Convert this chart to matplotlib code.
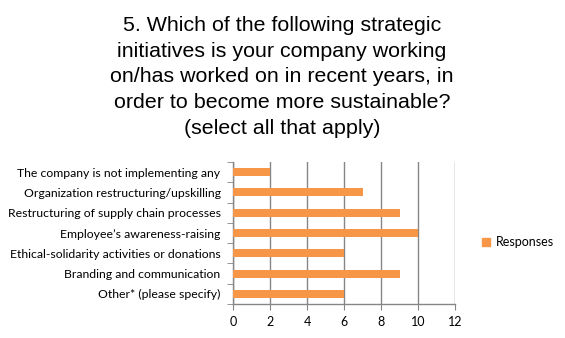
import matplotlib
matplotlib.use("Agg")
import matplotlib.pyplot as plt
from matplotlib.patches import Patch

categories = [
    "The company is not implementing any",
    "Organization restructuring/upskilling",
    "Restructuring of supply chain processes",
    "Employee\u2019s awareness-raising",
    "Ethical-solidarity activities or donations",
    "Branding and communication",
    "Other* (please specify)",
]
responses = [2, 7, 9, 10, 6, 9, 6]
xticks = [0, 2, 4, 6, 8, 10, 12]
series_name = "Responses"
title = ("5. Which of the following strategic\ninitiatives is your company working\n"
         "on/has worked on in recent years, in\norder to become more sustainable?\n"
         "(select all that apply)")

W, H = 565, 338
fig = plt.figure(figsize=(W / 100, H / 100), dpi=100)
fig.patch.set_facecolor("white")

left, right, top, bottom = 233, 455, 162, 304
ax = fig.add_axes([left / W, 1 - bottom / H, (right - left) / W, (bottom - top) / H])

orange = "#F79646"
grey = "#868686"
lab_font = "Lato"
n = len(categories)
ypos = list(range(n))
ax.barh(ypos, responses, height=0.39, color=orange, zorder=3)
ax.set_ylim(n - 0.5, -0.5)
ax.set_xlim(0, 12)
ax.set_xticks(xticks)
ax.set_xticklabels([str(t) for t in xticks], fontsize=9, family=lab_font)
ax.set_yticks(ypos)
ax.set_yticklabels(categories, fontsize=8.8, family=lab_font)
ax.set_yticks([i - 0.5 for i in range(n + 1)], minor=True)
ax.tick_params(axis="y", which="major", length=0, pad=9)
ax.tick_params(axis="y", which="minor", length=4, color=grey, direction="out")
ax.tick_params(axis="x", length=4, color=grey, direction="out", pad=5)
ax.xaxis.grid(True, color=grey, linewidth=1, zorder=0)
for s in ["top", "right"]:
    ax.spines[s].set_visible(False)
for s in ["left", "bottom"]:
    ax.spines[s].set_color(grey)
    ax.spines[s].set_linewidth(1)
ax.set_facecolor("white")

fig.text(282 / W, 1 - 16 / H, title, ha="center", va="top", fontsize=15.4,
         family="Liberation Sans", linespacing=1.45)

fig.legend(handles=[Patch(color=orange, label=series_name)], loc="center left",
           bbox_to_anchor=(471 / W, 1 - 242 / H), frameon=False,
           handlelength=0.6, handleheight=0.6, handletextpad=0.5,
           prop={"family": lab_font, "size": 9})

fig.savefig("out.png", dpi=100, facecolor="white")
